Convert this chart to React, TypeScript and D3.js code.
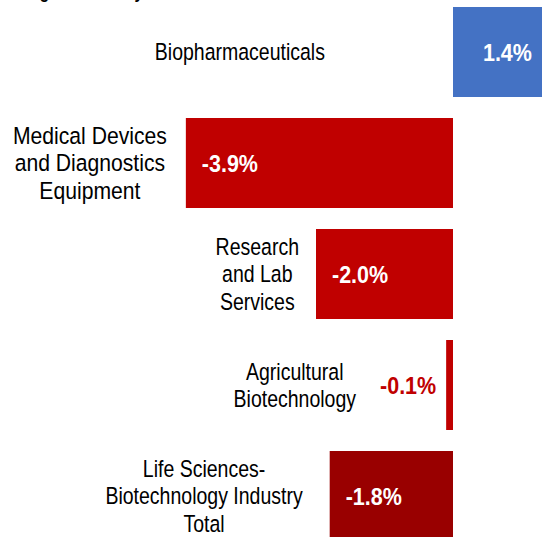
import React from "react";
import * as d3 from "d3";

const categories = [
  "Biopharmaceuticals",
  "Medical Devices\nand Diagnostics\nEquipment",
  "Research\nand Lab\nServices",
  "Agricultural\nBiotechnology",
  "Life Sciences-\nBiotechnology Industry\nTotal",
];
const values = [1.4, -3.9, -2.0, -0.1, -1.8];
const valueLabels = ["1.4%", "-3.9%", "-2.0%", "-0.1%", "-1.8%"];
const isTotal = [false, false, false, false, true];
const title = "Change in Industry";

// layout (not data)
const labelGaps = [128, 19, 17, 24, 27];
const labelScaleX = [0.83, 0.9, 0.83, 0.83, 0.83];
const W = 542;
const H = 537;
const CAT_FONT = 23.5;
const VAL_FONT = 24.7;
const VAL_SX = 0.87;
const LINE_H = 27.5;

const ctx = typeof document !== "undefined" ? document.createElement("canvas").getContext("2d") : null;
function measure(text: string, font: string, sx: number) {
  if (!ctx) return text.length * 10;
  ctx.font = font;
  return ctx.measureText(text).width * sx;
}

export default function App() {
  const x = d3.scaleLinear().domain([-4, 1.4]).range([179, 548.9]);
  const y = d3
    .scaleBand<number>()
    .domain(d3.range(categories.length))
    .range([7, 541])
    .paddingInner(21 / 111)
    .paddingOuter(0);
  const x0 = x(0);
  const catFont = `${CAT_FONT}px 'Liberation Sans', Arial, sans-serif`;
  const valFont = `bold ${VAL_FONT}px 'Liberation Sans', Arial, sans-serif`;

  return (
    <svg
      width={W}
      height={H}
      style={{ position: "absolute", left: 0, top: 0, background: "#fff" }}
      fontFamily="'Liberation Sans', Arial, sans-serif"
    >
      <text
        transform={`translate(0,-2) scale(0.88,1)`}
        fontSize={18}
        fontWeight="bold"
        fill="#000"
      >
        {title}
      </text>
      {values.map((v, i) => {
        const top = y(i)!;
        const bh = y.bandwidth();
        const cy = top + bh / 2;
        const x1 = Math.min(x(v), x0);
        const x2 = Math.max(x(v), x0);
        const fill = v >= 0 ? "#4472C4" : isTotal[i] ? "#990000" : "#C00000";
        const inside = x2 - x1 > 60;
        const valW = measure(valueLabels[i], valFont, VAL_SX);
        let valX: number;
        if (v >= 0) valX = x2 - 17 - valW;
        else if (inside) valX = x1 + 16;
        else valX = x1 - 10 - valW;
        const valColor = inside ? "#fff" : fill;
        const anchor = v >= 0 ? x0 : inside ? x1 : valX;
        const sx = labelScaleX[i];
        const lines = categories[i].split("\n");
        const maxW = Math.max(...lines.map((l) => measure(l, catFont, sx)));
        const cx = anchor - labelGaps[i] - maxW / 2;
        const capH = CAT_FONT * 0.716;
        return (
          <g key={i}>
            <rect x={x1} y={top} width={x2 - x1} height={bh} fill={fill} />
            <text
              transform={`translate(${valX},${cy + (VAL_FONT * 0.716) / 2}) scale(${VAL_SX},1)`}
              fontSize={VAL_FONT}
              fontWeight="bold"
              fill={valColor}
            >
              {valueLabels[i]}
            </text>
            {lines.map((l, j) => (
              <text
                key={j}
                transform={`translate(${cx},${cy + capH / 2 + (j - (lines.length - 1) / 2) * LINE_H}) scale(${sx},1)`}
                fontSize={CAT_FONT}
                textAnchor="middle"
                fill="#000"
              >
                {l}
              </text>
            ))}
          </g>
        );
      })}
    </svg>
  );
}
